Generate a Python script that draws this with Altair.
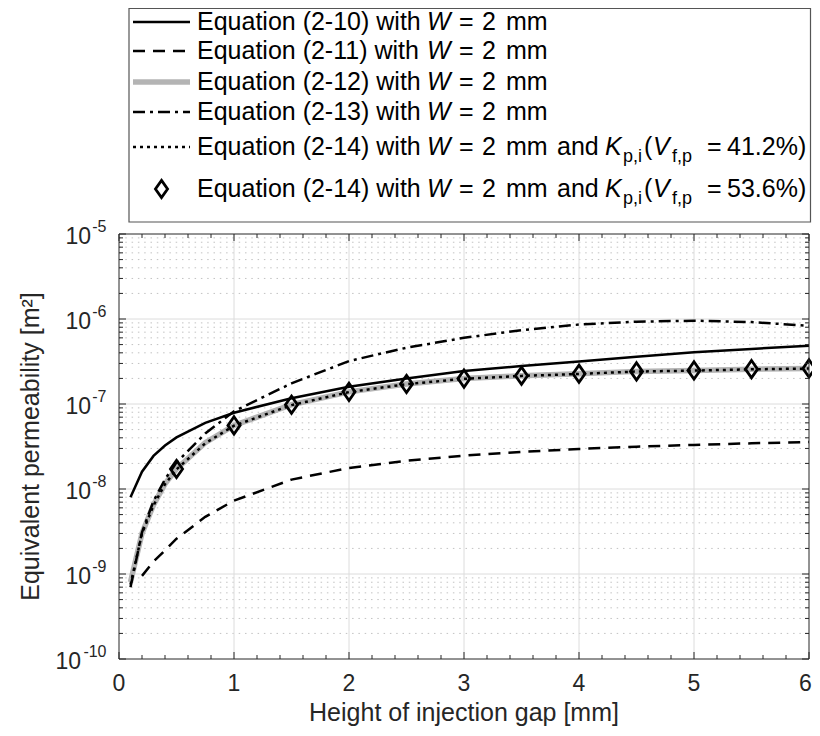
import altair as alt
import pandas as pd

# ---------------- data ----------------
H = [0.1, 0.2, 0.3, 0.4, 0.5, 0.75, 1.0, 1.5, 2.0, 2.5, 3.0, 3.5, 4.0, 4.5, 5.0, 5.5, 6.0]
K_210 = [8.0e-9, 1.6e-8, 2.45e-8, 3.25e-8, 4.05e-8, 6.0e-8, 7.9e-8, 1.17e-7, 1.6e-7,
         2.0e-7, 2.45e-7, 2.8e-7, 3.17e-7, 3.6e-7, 4.05e-7, 4.45e-7, 4.85e-7]
H_211 = [0.2, 0.3, 0.4, 0.5, 0.75, 1.0, 1.5, 2.0, 2.5, 3.0, 3.5, 4.0, 4.5, 5.0, 5.5, 6.0]
K_211 = [9.5e-10, 1.4e-9, 1.9e-9, 2.6e-9, 4.7e-9, 7.3e-9, 1.29e-8, 1.77e-8, 2.15e-8,
         2.47e-8, 2.73e-8, 2.96e-8, 3.15e-8, 3.3e-8, 3.45e-8, 3.57e-8]
K_212 = [8.0e-10, 3.0e-9, 6.5e-9, 1.15e-8, 1.72e-8, 3.5e-8, 5.6e-8, 9.8e-8, 1.39e-7,
         1.72e-7, 1.99e-7, 2.15e-7, 2.27e-7, 2.42e-7, 2.48e-7, 2.57e-7, 2.62e-7]
K_213 = [7.0e-10, 3.1e-9, 7.2e-9, 1.3e-8, 2.05e-8, 4.5e-8, 8.2e-8, 1.75e-7, 3.2e-7,
         4.6e-7, 6.0e-7, 7.4e-7, 8.6e-7, 9.3e-7, 9.55e-7, 9.2e-7, 8.3e-7]
K_214A = [7.5e-10, 3.0e-9, 6.4e-9, 1.14e-8, 1.7e-8, 3.45e-8, 5.55e-8, 9.7e-8, 1.38e-7,
          1.71e-7, 1.98e-7, 2.14e-7, 2.26e-7, 2.41e-7, 2.47e-7, 2.56e-7, 2.61e-7]
H_214B = [0.5, 1.0, 1.5, 2.0, 2.5, 3.0, 3.5, 4.0, 4.5, 5.0, 5.5, 6.0]
K_214B = [1.72e-8, 5.6e-8, 9.8e-8, 1.39e-7, 1.72e-7, 1.99e-7, 2.15e-7, 2.27e-7,
          2.42e-7, 2.48e-7, 2.57e-7, 2.62e-7]

EQ_NAMES = ["(2-10)", "(2-11)", "(2-12)", "(2-13)", "(2-14)", "(2-14)"]
VF_LABELS = ["41.2%)", "53.6%)"]
X_TICKS = [0, 1, 2, 3, 4, 5, 6]
Y_EXPS = [-10, -9, -8, -7, -6, -5]
X_TITLE = "Height of injection gap [mm]"
Y_TITLE = "Equivalent permeability [m\u00b2]"

# ---------------- layout / style ----------------
FONT = "Liberation Sans"
AX = "#262626"
W, HP = 690, 425
DIAMOND = "M0,-1L0.7,0L0,1L-0.7,0Z"

xs = alt.Scale(domain=[0, 6], nice=False, zero=False)
ys = alt.Scale(type="log", domain=[1e-10, 1e-5], nice=False)


def X(f):
    return alt.X(f, type="quantitative", scale=xs, axis=None)


def Y(f):
    return alt.Y(f, type="quantitative", scale=ys, axis=None)


ONE = pd.DataFrame({"a": [0]})
layers = []

# grid
y_minor = [m * 10.0 ** e for e in range(-10, -5) for m in range(2, 10)]
y_major = [10.0 ** e for e in Y_EXPS]
x_minor = [i * 0.2 for i in range(31) if i % 5 != 0]

layers.append(alt.Chart(pd.DataFrame({"v": y_minor})).mark_rule(
    color="#c2c2c2", strokeWidth=1, strokeDash=[1.5, 4.8]).encode(
    y=Y("v"), x=alt.value(0), x2=alt.value(W)))
layers.append(alt.Chart(pd.DataFrame({"v": y_major[1:-1]})).mark_rule(
    color="#dcdcdc", strokeWidth=1).encode(y=Y("v"), x=alt.value(0), x2=alt.value(W)))
layers.append(alt.Chart(pd.DataFrame({"v": X_TICKS[1:-1]})).mark_rule(
    color="#dcdcdc", strokeWidth=1).encode(x=X("v"), y=alt.value(0), y2=alt.value(HP)))


# data series
def series(h, k, **kw):
    return alt.Chart(pd.DataFrame({"h": h, "k": k})).mark_line(**kw).encode(
        x=X("h"), y=Y("k"), order="h:Q")


layers.append(series(H, K_210, color="black", strokeWidth=2.5))
layers.append(series(H_211, K_211, color="black", strokeWidth=2.5, strokeDash=[12, 8]))
layers.append(series(H, K_212, color="#b4b4b4", strokeWidth=5.5))
layers.append(series(H, K_213, color="black", strokeWidth=2.5, strokeDash=[12, 5, 3, 5]))
layers.append(series(H, K_214A, color="black", strokeWidth=2.5, strokeDash=[3, 4]))
layers.append(alt.Chart(pd.DataFrame({"h": H_214B, "k": K_214B})).mark_point(
    shape=DIAMOND, size=300, filled=False, color="black", strokeWidth=2.8, opacity=1).encode(
    x=X("h"), y=Y("k")))

# box
layers.append(alt.Chart(ONE).mark_rect(fill="transparent", stroke=AX, strokeWidth=1).encode(
    x=alt.value(0), x2=alt.value(W), y=alt.value(0), y2=alt.value(HP)))

# ticks (inward)
for vals, ln in ((X_TICKS, 7), (x_minor, 4)):
    d = pd.DataFrame({"v": vals})
    layers.append(alt.Chart(d).mark_rule(color=AX, strokeWidth=1).encode(
        x=X("v"), y=alt.value(HP), y2=alt.value(HP - ln)))
    layers.append(alt.Chart(d).mark_rule(color=AX, strokeWidth=1).encode(
        x=X("v"), y=alt.value(0), y2=alt.value(ln)))
for vals, ln in ((y_major, 7), (y_minor, 4)):
    d = pd.DataFrame({"v": vals})
    layers.append(alt.Chart(d).mark_rule(color=AX, strokeWidth=1).encode(
        y=Y("v"), x=alt.value(0), x2=alt.value(ln)))
    layers.append(alt.Chart(d).mark_rule(color=AX, strokeWidth=1).encode(
        y=Y("v"), x=alt.value(W - ln), x2=alt.value(W)))

# tick labels
xlab = pd.DataFrame({"v": X_TICKS, "lab": [str(t) for t in X_TICKS]})
layers.append(alt.Chart(xlab).transform_filter("datum.v < 6").mark_text(
    font=FONT, fontSize=23, color=AX, align="center", baseline="middle").encode(
    x=X("v"), y=alt.value(HP + 25), text="lab:N"))
layers.append(alt.Chart(xlab).transform_filter("datum.v == 6").mark_text(
    font=FONT, fontSize=23, color=AX, align="center", baseline="middle", dx=-3.5).encode(
    x=X("v"), y=alt.value(HP + 25), text="lab:N"))
ylab = pd.DataFrame({"v": y_major, "sup": [str(e) for e in Y_EXPS]})
layers.append(alt.Chart(ylab).transform_filter("datum.v > 1.5e-10").mark_text(
    font=FONT, fontSize=23, color=AX, align="right", baseline="middle", dy=3, text="10").encode(
    x=alt.value(-28), y=Y("v")))
layers.append(alt.Chart(ylab).transform_filter("datum.v < 1.5e-10").mark_text(
    font=FONT, fontSize=23, color=AX, align="right", baseline="middle", dy=3, text="10").encode(
    x=alt.value(-38), y=Y("v")))
layers.append(alt.Chart(ylab).mark_text(
    font=FONT, fontSize=16, color=AX, align="right", baseline="middle", dy=-7).encode(
    x=alt.value(-12.5), y=Y("v"), text="sup:N"))


def txt(s, x, y, size=25, italic=False, align="left", angle=0, color="black"):
    kw = dict(text=s, font=FONT, fontSize=size, color=color, align=align, baseline="middle")
    if italic:
        kw["fontStyle"] = "italic"
    if angle:
        kw["angle"] = angle
    return alt.Chart(ONE).mark_text(**kw).encode(x=alt.value(x), y=alt.value(y))


# axis titles
layers.append(txt(X_TITLE, W / 2, HP + 54, color=AX, align="center"))
layers.append(txt(Y_TITLE, -88, HP / 2, color=AX, align="center", angle=270))

# legend
layers.append(alt.Chart(ONE).mark_rect(fill="white", stroke="#555555", strokeWidth=1.2).encode(
    x=alt.value(10), x2=alt.value(W + 1.5), y=alt.value(-225.5), y2=alt.value(-12)))
ROWS = [-212, -183, -152, -122, -87, -45]
TOKENS = [
    dict(color="black", strokeWidth=2.5),
    dict(color="black", strokeWidth=2.5, strokeDash=[12, 8]),
    dict(color="#b4b4b4", strokeWidth=5.5),
    dict(color="black", strokeWidth=2.5, strokeDash=[12, 5, 3, 5]),
    dict(color="black", strokeWidth=2.5, strokeDash=[3, 4]),
]
for r, tk in zip(ROWS, TOKENS):
    layers.append(alt.Chart(ONE).mark_rule(**tk).encode(
        x=alt.value(14), x2=alt.value(71), y=alt.value(r)))
layers.append(alt.Chart(ONE).mark_point(
    shape=DIAMOND, size=300, filled=False, color="black", strokeWidth=2.8, opacity=1).encode(
    x=alt.value(42.5), y=alt.value(ROWS[5])))

for i, r in enumerate(ROWS):
    layers.append(txt("Equation " + EQ_NAMES[i] + " with", 78, r))
    layers.append(txt("W", 308, r, italic=True))
    layers.append(txt("=", 340, r))
    layers.append(txt("2", 363, r))
    layers.append(txt("mm", 387, r))
    if i >= 4:
        layers.append(txt("and", 438, r))
        layers.append(txt("K", 486, r, italic=True))
        layers.append(txt("p,i", 504, r + 10, size=18))
        layers.append(txt("(", 525, r))
        layers.append(txt("V", 534, r, italic=True))
        layers.append(txt("f,p", 553, r + 10, size=18))
        layers.append(txt("=", 588, r))
        layers.append(txt(VF_LABELS[i - 4], 608, r))

chart = alt.layer(*layers).properties(
    width=W, height=HP,
    padding={"left": 111, "top": 226, "right": 3, "bottom": 69},
    autosize=alt.AutoSizeParams(type="none"),
).configure_view(stroke=None)

chart.save("out.html", embed_options={"renderer": "svg", "actions": False})
